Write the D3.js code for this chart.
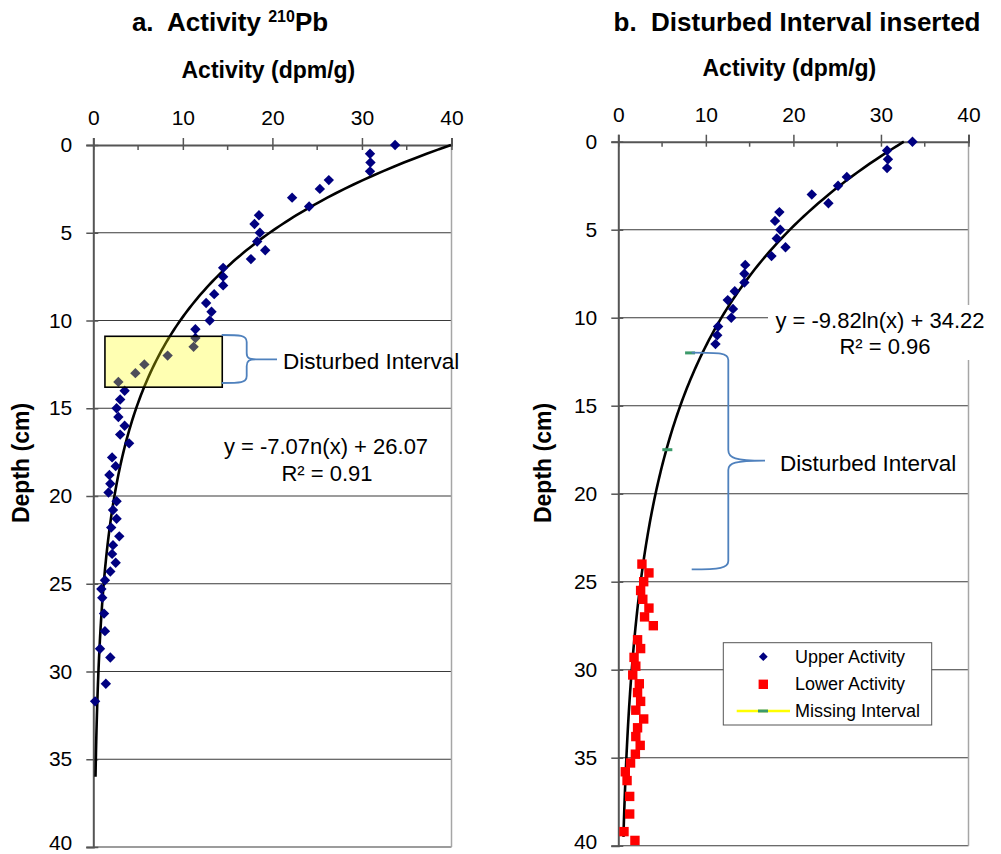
<!DOCTYPE html>
<html>
<head>
<meta charset="utf-8">
<script src="https://cdn.jsdelivr.net/npm/d3@7"></script>
<style>
  body { margin: 0; background: #fff; }
  text { font-family: "Liberation Sans", Arial, sans-serif; }
</style>
</head>
<body>
<div id="chart"></div>
<script>
// --- data ---

// panel a : all 210Pb points
let depthA = [0,0.5,1,1.5,2,2.5,3,3.5,4,4.5,5,5.5,6,6.5,7,7.5,8,8.5,9,9.5,10,10.5,11,11.5,12,12.5,13,13.5,14,14.5,15,15.5,16,16.5,17,
  17.8,18.3,18.8,19.3,19.8,20.3,20.8,21.3,21.8,22.3,22.8,23.3,23.8,24.3,24.8,25.3,25.8,
  26.7,27.7,28.7,29.2,30.7,31.7];
let activityA = [33.7,30.9,30.95,30.9,26.3,25.3,22.2,24.1,18.5,18.0,18.6,18.3,19.2,17.6,14.5,14.5,14.5,13.5,12.6,13.2,13.0,11.4,11.4,11.2,8.3,5.7,4.7,2.8,3.5,3.0,2.6,2.8,3.5,3.0,4.0,
  2.1,2.5,1.8,1.9,1.7,2.6,2.2,2.6,2.0,2.9,2.2,2.1,2.5,1.9,1.3,0.9,1.0,
  1.2,1.3,0.75,1.9,1.4,0.2];

// panel b : upper / lower activity, missing interval
let depthUpper = [0,0.5,1,1.5,2,2.5,3,3.5,4,4.5,5,5.5,6,6.5,7,7.5,8,8.5,9,9.5,10,10.5,11,11.5];
let activityUpper = [33.6,30.7,30.8,30.7,26.1,25.1,22.1,24.0,18.4,17.9,18.5,18.1,19.1,17.5,14.5,14.4,14.4,13.3,12.5,13.1,12.9,11.4,11.3,11.1];
let depthLower = [24,24.5,25,25.5,26,26.5,27,27.5,28.3,28.8,29.3,29.8,30.3,30.8,31.3,31.8,32.3,32.8,33.3,33.8,34.3,34.8,35.3,35.8,36.3,37.2,38.2,39.2,39.7];
let activityLower = [2.7,3.5,2.9,2.55,2.8,3.5,3.0,4.0,2.2,2.55,1.8,2.0,1.65,2.4,2.2,2.55,2.0,2.9,2.2,2.0,2.5,1.95,1.4,0.8,1.0,1.3,1.3,0.65,1.9];
let depthMissing = [12,17.5];
let activityMissing = [8.2,5.6];

// trendlines (depth = a*ln(activity) + b), as printed on the chart
let trendA = {a:-7.07, b:26.07, dmax:36};
let trendB = {a:-9.82, b:34.22, dmax:39.6};

let xTicks = [0,10,20,30,40];
let xMinor = [5,15,25,35];
let yTicks = [0,5,10,15,20,25,30,35,40];

// disturbed interval box in panel a (activity / depth)
let boxA = {x0:1.3, x1:14.4, d0:10.9, d1:13.8};

// --- --- --- --- --- --- --- --- --- --- ---

let svg = d3.select("#chart").append("svg")
    .attr("width",1001)
    .attr("height",854);

let panels = [
  {left:93.3, right:451.5, top:145, bottom:847, yLabX:21, titleY:78},
  {left:618.3, right:968.5, top:141.7, bottom:845.7, yLabX:543, titleY:76}
];

panels.forEach(function(p){
  p.x = d3.scaleLinear().domain([0,40]).range([p.left,p.right]);
  p.y = d3.scaleLinear().domain([0,40]).range([p.top,p.bottom]);
});

let diamond = "M0,-5.2L5.2,0L0,5.2L-5.2,0Z";

function trendPoints(t){
  // sample the printed equation along depth
  let pts = [];
  for (let d = 0; d <= t.dmax; d += 0.25){
    pts.push([Math.exp((d - t.b)/t.a), d]);
  }
  return pts;
}

function drawFrame(p){
  let g = svg.append("g");
  // gridlines
  g.selectAll(".grid").data(yTicks.slice(1)).enter()
    .append("line")
    .attr("x1",p.left).attr("x2",p.right)
    .attr("y1",d => p.y(d)).attr("y2",d => p.y(d))
    .attr("stroke","#3a3a3a").attr("stroke-width",1.1);
  // right border
  g.append("line")
    .attr("x1",p.right).attr("x2",p.right)
    .attr("y1",p.top).attr("y2",p.bottom)
    .attr("stroke","#a6a6a6").attr("stroke-width",1.5);

  // top axis
  let xa = g.append("g").attr("transform","translate(0,"+p.top+")")
    .call(d3.axisTop(p.x).tickValues(xTicks).tickSize(7).tickPadding(13).tickFormat(d3.format("d")));
  xa.select(".domain").attr("stroke","#555").attr("stroke-width",2);
  xa.selectAll(".tick line").attr("stroke","#555").attr("stroke-width",1.5).attr("y2",-7).attr("y1",5);
  xa.selectAll("text").style("font-size","21px").attr("fill","#000");
  g.selectAll(".minor").data(xMinor).enter()
    .append("line")
    .attr("x1",d => p.x(d)).attr("x2",d => p.x(d))
    .attr("y1",p.top).attr("y2",p.top+5)
    .attr("stroke","#555").attr("stroke-width",1.5);

  // left axis
  let ya = g.append("g").attr("transform","translate("+p.left+",0)")
    .call(d3.axisLeft(p.y).tickValues(yTicks).tickSize(7).tickPadding(14).tickFormat(d3.format("d")));
  ya.select(".domain").attr("stroke","#555").attr("stroke-width",2);
  ya.selectAll(".tick line").attr("stroke","#555").attr("stroke-width",1.5).attr("x1",5);
  ya.selectAll("text").style("font-size","21px").attr("fill","#000")
    .attr("dy",d => d === 40 ? "0.12em" : "0.32em");   // keep the last label inside the page

  // axis titles
  svg.append("text")
    .attr("x",(p.left+p.right)/2 - 4).attr("y",p.titleY)
    .style("text-anchor","middle").style("font-size","23px").style("font-weight","bold")
    .text("Activity (dpm/g)");
  svg.append("text")
    .attr("transform","translate("+p.yLabX+","+463+") rotate(-90)")
    .attr("dy","0.35em")
    .style("text-anchor","middle").style("font-size","23px").style("font-weight","bold")
    .text("Depth (cm)");
}

function drawTrend(p,t){
  let line = d3.line().x(d => p.x(d[0])).y(d => p.y(d[1])).curve(d3.curveBasis);
  svg.append("path")
    .datum(trendPoints(t))
    .attr("d",line)
    .attr("fill","none")
    .attr("stroke","#000")
    .attr("stroke-width",2.6);
}

function brace(pts){
  svg.append("path")
    .attr("d",pts)
    .attr("fill","none")
    .attr("stroke","#4f81bd")
    .attr("stroke-width",1.8);
}

// --- panel a ---
let pa = panels[0];
drawFrame(pa);
drawTrend(pa,trendA);

svg.append("g").selectAll("path").data(d3.zip(activityA,depthA)).enter()
  .append("path")
  .attr("d",diamond)
  .attr("transform",d => "translate("+pa.x(d[0])+","+pa.y(d[1])+")")
  .attr("fill","#000080");

svg.append("rect")
  .attr("x",pa.x(boxA.x0)).attr("y",pa.y(boxA.d0))
  .attr("width",pa.x(boxA.x1)-pa.x(boxA.x0))
  .attr("height",pa.y(boxA.d1)-pa.y(boxA.d0))
  .attr("fill","#ffff00").attr("fill-opacity",0.3)
  .attr("stroke","#000").attr("stroke-width",1.6);

brace("M221.7,335 C240,335 246.7,335 246.7,342 L246.7,353 C246.7,358 249,359.3 256,359.3 L277,359.3 M256,359.3 C249,359.3 246.7,361 246.7,366 L246.7,376 C246.7,383 240,383 221.7,383");

svg.append("text").attr("x",283).attr("y",369)
  .style("font-size","22.5px").text("Disturbed Interval");

svg.append("text").attr("x",326).attr("y",454)
  .style("text-anchor","middle").style("font-size","22px").text("y = -7.07n(x) + 26.07");
svg.append("text").attr("x",327).attr("y",481)
  .style("text-anchor","middle").style("font-size","22px").text("R² = 0.91");

let titleA = svg.append("text").attr("x",230).attr("y",31)
  .style("text-anchor","middle").style("font-size","26px").style("font-weight","bold")
  .style("white-space","pre");
titleA.append("tspan").text("a.  Activity ");
titleA.append("tspan").attr("dy",-9).style("font-size","16px").text("210");
titleA.append("tspan").attr("dy",9).text("Pb");

// --- panel b ---
let pb = panels[1];
drawFrame(pb);

// equation label box covers the gridline
svg.append("rect").attr("x",768).attr("y",305).attr("width",233).attr("height",55).attr("fill","#fff");
svg.append("text").attr("x",880).attr("y",328)
  .style("text-anchor","middle").style("font-size","22px").text("y = -9.82ln(x) + 34.22");
svg.append("text").attr("x",885).attr("y",354)
  .style("text-anchor","middle").style("font-size","22px").text("R² = 0.96");

drawTrend(pb,trendB);

svg.append("g").selectAll("path").data(d3.zip(activityUpper,depthUpper)).enter()
  .append("path")
  .attr("d",diamond)
  .attr("transform",d => "translate("+pb.x(d[0])+","+pb.y(d[1])+")")
  .attr("fill","#000080");

svg.append("g").selectAll("rect").data(d3.zip(activityLower,depthLower)).enter()
  .append("rect")
  .attr("x",d => pb.x(d[0])-4.7).attr("y",d => pb.y(d[1])-4.7)
  .attr("width",9.4).attr("height",9.4)
  .attr("fill","#ff0000");

svg.append("g").selectAll("rect").data(d3.zip(activityMissing,depthMissing)).enter()
  .append("rect")
  .attr("x",d => pb.x(d[0])-5).attr("y",d => pb.y(d[1])-1.5)
  .attr("width",10).attr("height",3)
  .attr("fill","#3c9a6a");

brace("M691.7,352.7 C720,352.7 728.3,353 728.3,360 L728.3,450 C728.3,458 735,460.7 765,460.7 M765,460.7 C735,460.7 728.3,463 728.3,470 L728.3,561 C728.3,568 720,569.3 691.7,569.3");

svg.append("text").attr("x",780).attr("y",471)
  .style("font-size","22.5px").text("Disturbed Interval");

svg.append("text").attr("x",797).attr("y",31)
  .style("text-anchor","middle").style("font-size","26px").style("font-weight","bold")
  .style("white-space","pre")
  .text("b.  Disturbed Interval inserted");

// legend
let leg = svg.append("g");
leg.append("rect").attr("x",723.3).attr("y",642.7).attr("width",208.4).attr("height",82.3)
  .attr("fill","#fff").attr("stroke","#555").attr("stroke-width",1);
leg.append("path").attr("d",diamond).attr("transform","translate(763.3,656.7) scale(0.85)").attr("fill","#000080");
leg.append("rect").attr("x",758.6).attr("y",679.6).attr("width",9.4).attr("height",9.4).attr("fill","#ff0000");
leg.append("line").attr("x1",736.7).attr("x2",790).attr("y1",711).attr("y2",711).attr("stroke","#ffff00").attr("stroke-width",2.5);
leg.append("rect").attr("x",758).attr("y",709.5).attr("width",10).attr("height",3).attr("fill","#3c9a6a");
let legLabels = ["Upper Activity","Lower Activity","Missing Interval"];
leg.selectAll(".lt").data(legLabels).enter()
  .append("text")
  .attr("x",795).attr("y",(d,i) => 663 + i*27)
  .style("font-size","18px")
  .text(d => d);
</script>
</body>
</html>
